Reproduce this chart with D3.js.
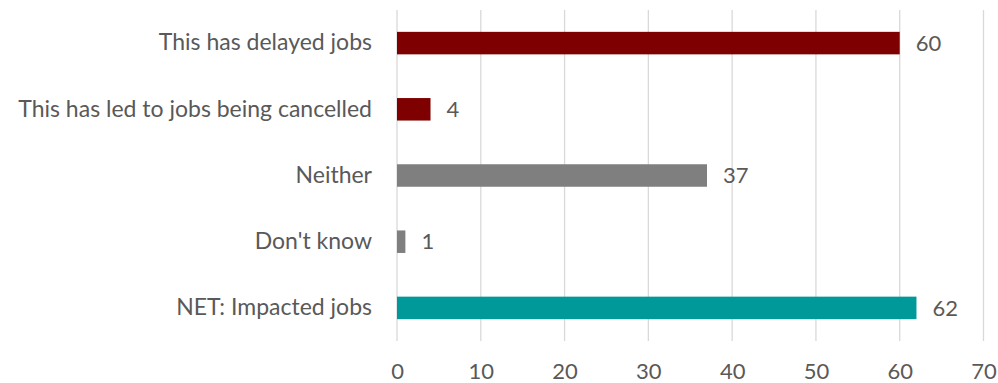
<!DOCTYPE html>
<html>
<head>
<meta charset="utf-8">
<script src="https://cdn.jsdelivr.net/npm/d3@7"></script>
<style>
  body { margin: 0; background: #fff; }
  svg text { font-family: Lato, "Open Sans", sans-serif; fill: #595959; }
</style>
</head>
<body>
<div id="chart"></div>
<script>
const categories = [
  'This has delayed jobs',
  'This has led to jobs being cancelled',
  'Neither',
  "Don't know",
  'NET: Impacted jobs',
];
const values = [60, 4, 37, 1, 62];
const barColors = ['#7f0000', '#7f0000', '#7f7f7f', '#7f7f7f', '#009999'];
const xTicks = [0, 10, 20, 30, 40, 50, 60, 70];

const w = 998;
const h = 383;
const m = { t: 10, r: 15, b: 42, l: 397 };

const svg = d3.select('#chart').append('svg').attr('width', w).attr('height', h);

const x = d3.scaleLinear().domain([0, 70]).range([m.l, 983.5]);
const y = d3
  .scaleBand()
  .domain(categories)
  .range([m.t, h - m.b])
  .paddingInner(0.66)
  .paddingOuter(0.33);

// gridlines
svg
  .append('g')
  .selectAll('line')
  .data(xTicks)
  .join('line')
  .attr('x1', (d) => x(d))
  .attr('x2', (d) => x(d))
  .attr('y1', m.t)
  .attr('y2', h - m.b)
  .attr('stroke', '#d9d9d9')
  .attr('stroke-width', 1.3);

// bars
svg
  .append('g')
  .selectAll('rect')
  .data(categories)
  .join('rect')
  .attr('x', x(0))
  .attr('y', (d) => y(d))
  .attr('width', (d, i) => x(values[i]) - x(0))
  .attr('height', y.bandwidth())
  .attr('fill', (d, i) => barColors[i]);

// value labels
svg
  .append('g')
  .selectAll('text')
  .data(categories)
  .join('text')
  .attr('x', (d, i) => x(values[i]) + 16)
  .attr('y', (d) => y(d) + y.bandwidth() / 2)
  .attr('dy', '0.35em')
  .style('font-size', '22px')
  .text((d, i) => values[i]);

// category axis
const yAxis = svg
  .append('g')
  .attr('transform', `translate(${m.l},0)`)
  .call(d3.axisLeft(y).tickSize(0).tickPadding(25));
yAxis.select('.domain').remove();
yAxis.selectAll('text').style('font-size', '23px');

// value axis
const xAxis = svg
  .append('g')
  .attr('transform', `translate(0,${h - m.b})`)
  .call(d3.axisBottom(x).tickValues(xTicks).tickSize(0).tickPadding(22));
xAxis.select('.domain').remove();
xAxis.selectAll('text').style('font-size', '22px');
</script>
</body>
</html>
